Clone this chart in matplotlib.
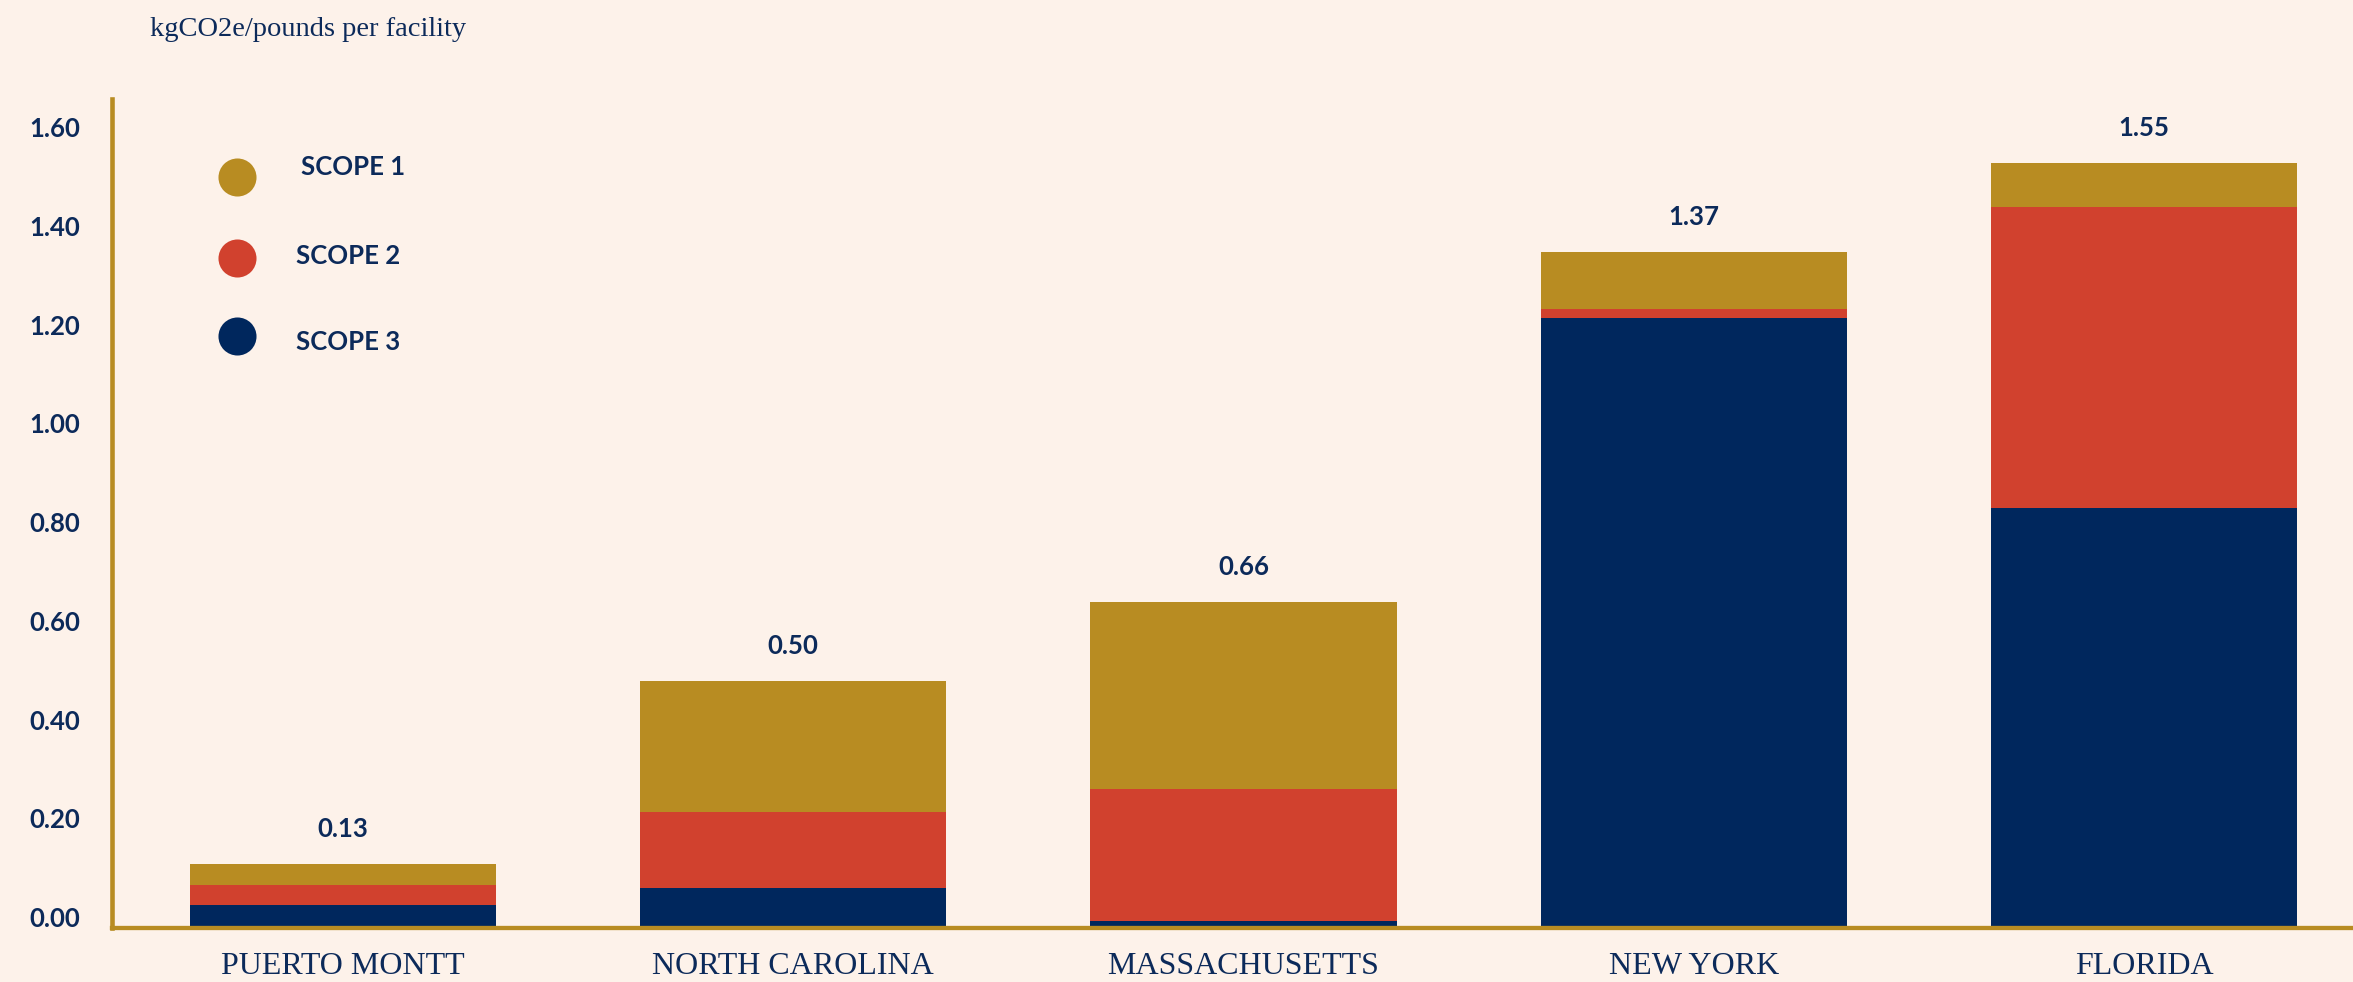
import matplotlib
matplotlib.use("Agg")
import matplotlib.pyplot as plt
from matplotlib.transforms import ScaledTranslation

# ---- data -------------------------------------------------------------
facilities = ["PUERTO MONTT", "NORTH CAROLINA", "MASSACHUSETTS", "NEW YORK", "FLORIDA"]
scope3 = [0.046, 0.081, 0.014, 1.235, 0.851]
scope2 = [0.041, 0.154, 0.268, 0.019, 0.609]
scope1 = [0.043, 0.265, 0.378, 0.116, 0.090]
totals = [0.13, 0.50, 0.66, 1.37, 1.55]
series_names = ["SCOPE 1", "SCOPE 2", "SCOPE 3"]
yticks = [0.0, 0.2, 0.4, 0.6, 0.8, 1.0, 1.2, 1.4, 1.6]
unit_label = "kgCO2e/pounds per facility"

# ---- style ------------------------------------------------------------
BG = "#FDF2EA"
GOLD = "#B88C22"
RED = "#D1412E"
NAVY = "#00275D"
INK = "#0C2A5A"
SANS = ["Lato", "DejaVu Sans"]
SERIF = ["Liberation Serif", "DejaVu Serif"]

W, H = 2353, 982
fig = plt.figure(figsize=(W / 100, H / 100), dpi=100, facecolor=BG)
ax_left, ax_right, ax_top, ax_bottom = 112, W, 99, 928
ax = fig.add_axes([ax_left / W, (H - ax_bottom) / H,
                   (ax_right - ax_left) / W, (ax_bottom - ax_top) / H])
ax.set_facecolor(BG)

x = list(range(len(facilities)))
bw = 0.68
ax.bar(x, scope3, width=bw, color=NAVY, zorder=2)
bot2 = [a for a in scope3]
ax.bar(x, scope2, width=bw, bottom=bot2, color=RED, zorder=2)
bot1 = [a + b for a, b in zip(scope3, scope2)]
ax.bar(x, scope1, width=bw, bottom=bot1, color=GOLD, zorder=2)

# total labels above each stack
for xi, t in zip(x, totals):
    ax.annotate(f"{t:.2f}", xy=(xi, t), xytext=(0, 25), textcoords="offset points",
                ha="center", va="center", fontsize=18.5, fontweight="bold",
                color=INK, family=SANS)

ax.set_xlim(-0.513, 4.464)
ax.set_ylim(0, 1.679)

for side in ("top", "right"):
    ax.spines[side].set_visible(False)
ax.spines["left"].set_color(GOLD)
ax.spines["left"].set_linewidth(3.3)
ax.spines["bottom"].set_color(GOLD)
ax.spines["bottom"].set_linewidth(3.1)
ax.spines["bottom"].set_zorder(3)

ax.set_yticks(yticks)
ax.set_yticklabels([f"{v:.2f}" for v in yticks], fontsize=18.5, fontweight="bold",
                   color=INK, family=SANS)
ax.tick_params(axis="y", length=0, pad=23)
for lab in ax.get_yticklabels():
    lab.set_transform(lab.get_transform() + ScaledTranslation(0, 11 / 100, fig.dpi_scale_trans))

ax.set_xticks(x)
ax.set_xticklabels(facilities, fontsize=23, color=INK, family=SERIF)
ax.tick_params(axis="x", length=0, pad=17)

# legend: coloured dots with labels
ax_w, ax_h = ax_right - ax_left, ax_bottom - ax_top
legend_rows = [(177, 167, 301), (258, 256, 296), (336, 342, 296)]
for name, col, (cy, ty, tx) in zip(series_names, [GOLD, RED, NAVY], legend_rows):
    ax.scatter([(237 - ax_left) / ax_w], [(ax_bottom - cy) / ax_h], s=750, color=col,
               transform=ax.transAxes, clip_on=False, zorder=4, linewidths=0)
    ax.text((tx - ax_left) / ax_w, (ax_bottom - ty) / ax_h, name, transform=ax.transAxes,
            ha="left", va="center", fontsize=18.5, fontweight="bold", color=INK,
            family=SANS)

fig.text(150 / W, 1 - 30 / H, unit_label, ha="left", va="center", fontsize=20.5,
         color=INK, family=SERIF)

fig.savefig("out.png", dpi=100, facecolor=BG)
